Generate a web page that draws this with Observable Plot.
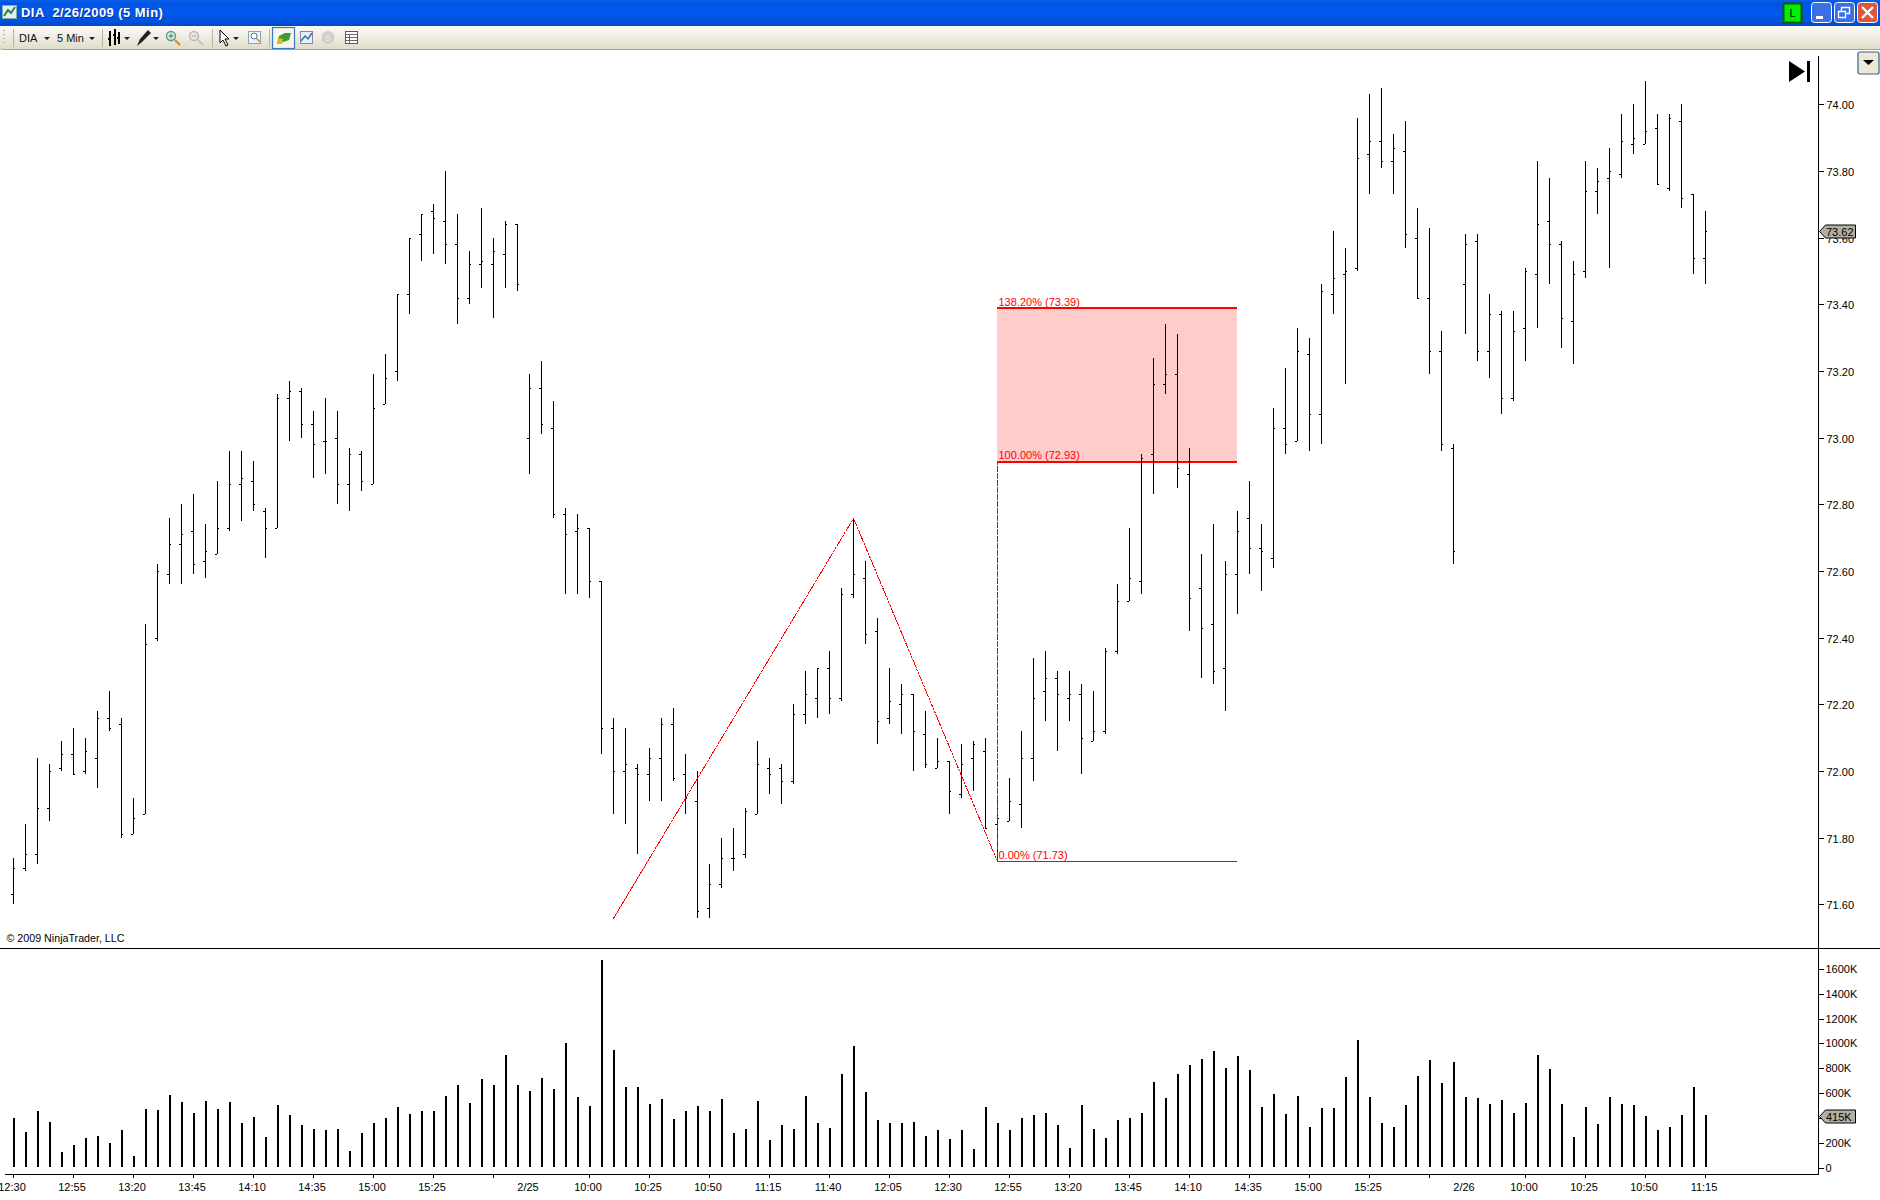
<!DOCTYPE html>
<html>
<head>
<meta charset="utf-8">
<title>DIA 2/26/2009 (5 Min)</title>
<script src="https://cdn.jsdelivr.net/npm/d3@7"></script>
<script src="https://cdn.jsdelivr.net/npm/@observablehq/plot@0.6"></script>
<style>
html,body{margin:0;padding:0;background:#fff;overflow:hidden}
#page{position:relative;width:1880px;height:1200px;overflow:hidden;background:#fff;font-family:"Liberation Sans",Arial,sans-serif}
#page svg{display:block}
.abs{position:absolute}
#titlebar{left:0;top:0;width:1880px;height:26px;background:linear-gradient(#0a5fe8 0,#0054e3 12%,#0058ee 45%,#0053de 80%,#0048c4 100%)}
#titletext{left:21px;top:5px;color:#fff;font:bold 13px "Liberation Sans",sans-serif;white-space:pre;text-shadow:1px 1px 0 #0a2f9a;letter-spacing:.45px}
#toolbar{left:0;top:26px;width:1880px;height:24px;background:linear-gradient(#fbfaf5 0,#f1efe6 40%,#dfdcca 100%);border-bottom:1px solid #a5a67c;box-sizing:border-box;border-bottom-left-radius:3px}
.tb{position:absolute;top:32px;font:11px "Liberation Sans",sans-serif;color:#111}
#sep{left:0;top:948px;width:1880px;height:1px;background:#000}
</style>
</head>
<body>
<div id="page">
  <div id="price" class="abs" style="left:0;top:50px"></div>
  <div id="volume" class="abs" style="left:0;top:948px"></div>
  <div id="sep" class="abs"></div>
  <div id="titlebar" class="abs"></div>
  <svg class="abs" style="left:2px;top:4px" width="16" height="16"><rect x=".5" y="1.5" width="14" height="13" fill="#e8eef8" stroke="#8aa"/><path d="M2 12L6 6L9 9L13 3" stroke="#2a8a2a" stroke-width="2" fill="none"/></svg>
  <div id="titletext" class="abs">DIA  2/26/2009 (5 Min)</div>
  <svg class="abs" style="left:1782px;top:2px" width="98" height="24">
    <rect x="1.5" y="1.5" width="18" height="19" fill="#00f000" stroke="#0b5a0b" stroke-width="2"/>
    <text x="10.5" y="15" font-size="11" text-anchor="middle" font-family="Liberation Sans" fill="#000">L</text>
    <rect x="29.5" y=".5" width="20" height="20" rx="3" fill="#3a6fe6" stroke="#fff"/>
    <rect x="34" y="14" width="7" height="3" fill="#fff"/>
    <rect x="52.5" y=".5" width="20" height="20" rx="3" fill="#3a6fe6" stroke="#fff"/>
    <path d="M59.5 9.5v-4h8v6h-3M56.5 9.5h7v6h-7z" stroke="#fff" fill="none" stroke-width="1.3"/>
    <rect x="75.5" y=".5" width="20" height="20" rx="3" fill="#e0563a" stroke="#fff"/>
    <path d="M80 5L91 16M91 5L80 16" stroke="#fff" stroke-width="2.4"/>
  </svg>
  <div id="toolbar" class="abs"></div>
  <svg class="abs" style="left:0;top:26px" width="370" height="24">
    <path d="M4 4v1M4 8v1M4 12v1M4 16v1" stroke="#b5b39a" stroke-width="2"/>
    <path d="M13.5 3v18M102.5 3v18M212.5 3v18M269.5 3v18" stroke="#b8b6a0"/>
    <path d="M44 11h6l-3 3zM89 11h6l-3 3zM124 11h6l-3 3zM153 11h6l-3 3zM233 11h6l-3 3z" fill="#222"/>
    <path d="M110 5v15M115 3v16M119 6v12M108 13h2M113 9h2M117 12h2" stroke="#000" stroke-width="2"/>
    <path d="M137 20l3-7 8-9 3 3-9 9z" fill="#222"/>
    <circle cx="171" cy="10" r="4.500" fill="#dff0d0" stroke="#6b8ab0" stroke-width="1.4"/><path d="M175 14l5 5" stroke="#d98a35" stroke-width="2.2"/><path d="M171 7.500v5M168.500 10h5" stroke="#1a9a1a"/>
    <circle cx="194" cy="10" r="4.500" fill="#e8e8e0" stroke="#b8b8b8" stroke-width="1.4"/><path d="M198 14l5 5" stroke="#c4c4c4" stroke-width="2.2"/><path d="M191.500 10h5" stroke="#aaa"/>
    <path d="M220 4v13l3-3 3 6 2-1-3-6h4z" fill="#fff" stroke="#000"/>
    <rect x="248.500" y="5.500" width="12" height="12" fill="#eef3fb" stroke="#8aa"/><circle cx="254" cy="10" r="3" fill="#fff" stroke="#57a"/><path d="M256 12l4 4" stroke="#d98a35" stroke-width="1.6"/>
    <rect x="272.500" y="1.500" width="22" height="21" fill="#f6f5ee" stroke="#3b78c8" stroke-width="1.2"/><path d="M277 18l2-8 6-3 6 0-2 7-6 2z" fill="#3c9a2e"/><path d="M277 18l2-6 4 1-1 5z" fill="#e5b71e"/>
    <rect x="300.500" y="5.500" width="12" height="12" fill="#e8eef8" stroke="#889"/><path d="M301 15l4-5 3 3 4-6" stroke="#2a70b0" stroke-width="1.4" fill="none"/>
    <circle cx="328" cy="11.500" r="6.500" fill="#cfcfcb"/><text x="328" y="15" font-size="9" text-anchor="middle" fill="#eee" font-family="Liberation Sans">S</text>
    <rect x="345.500" y="5.500" width="12" height="12" fill="#fff" stroke="#557"/><path d="M345 8.500h13M349.500 9v8M346 11.500h11M346 14.500h11" stroke="#667"/>
  </svg>
  <div class="tb" style="left:19px">DIA</div>
  <div class="tb" style="left:57px">5 Min</div>
  <svg class="abs" style="left:1785px;top:56px" width="95" height="30">
    <path d="M4 5v21l16-10.500z" fill="#000"/><rect x="22" y="5" width="3" height="21" fill="#000"/>
  </svg>
  <svg class="abs" style="left:1857px;top:51px" width="23" height="24">
    <rect x="1" y="1" width="21" height="22" rx="2" fill="#ece9d8" stroke="#35608f" stroke-width="1.2"/><path d="M6 9h11l-5.500 5z" fill="#000"/>
  </svg>
</div>
<script>
// ---- chart values ----
const opens = [71.63,71.71,71.75,71.89,72.01,72.05,72.00,72.04,72.16,72.14,
71.81,71.87,72.40,72.59,72.68,72.72,72.63,72.65,72.73,72.86,
72.87,72.78,72.73,73.12,73.14,73.04,72.99,73.00,72.86,72.95,
72.86,73.10,73.20,73.43,73.61,73.68,73.65,73.58,73.42,73.52,
73.52,73.55,73.64,73.00,73.15,73.03,72.77,72.72,72.73,72.57,
72.13,72.00,72.01,71.99,72.04,72.14,71.99,71.91,71.59,71.66,
71.74,71.75,71.87,72.01,72.01,71.97,72.17,72.22,72.31,72.22,
72.53,72.58,72.42,72.16,72.20,72.23,72.11,72.01,72.03,71.93,
72.04,72.06,71.84,71.85,71.90,72.04,72.24,72.28,72.22,72.23,
72.09,72.12,72.36,72.51,72.57,72.95,73.16,73.19,72.89,72.55,
72.44,72.31,72.59,72.76,72.67,72.64,73.03,72.99,73.25,73.07,
73.43,73.49,73.51,73.85,73.89,73.83,73.86,73.60,73.42,73.26,
72.97,73.46,73.59,73.26,73.37,73.12,73.33,73.49,73.65,73.58,
73.35,73.50,73.74,73.78,73.79,73.88,73.88,73.93,73.75,73.95,
73.73,73.54];
const highs = [71.74,71.84,72.04,72.02,72.09,72.13,72.10,72.18,72.24,72.16,
71.92,72.44,72.62,72.76,72.80,72.83,72.74,72.87,72.96,72.96,
72.93,72.79,73.13,73.17,73.15,73.08,73.12,73.08,72.97,72.96,
73.19,73.25,73.43,73.60,73.67,73.70,73.80,73.67,73.56,73.69,
73.60,73.65,73.64,73.19,73.23,73.11,72.79,72.77,72.73,72.57,
72.16,72.13,72.02,72.07,72.16,72.19,72.05,72.00,71.72,71.80,
71.83,71.89,72.09,72.04,72.02,72.20,72.30,72.31,72.36,72.55,
72.76,72.63,72.46,72.31,72.26,72.23,72.18,72.10,72.03,72.08,
72.09,72.10,71.91,71.98,72.12,72.34,72.36,72.30,72.30,72.26,
72.24,72.37,72.56,72.73,72.95,73.24,73.34,73.31,72.97,72.65,
72.74,72.63,72.78,72.87,72.74,73.09,73.21,73.33,73.30,73.46,
73.62,73.57,73.96,74.03,74.05,73.91,73.95,73.69,73.63,73.32,
72.98,73.61,73.61,73.43,73.38,73.38,73.51,73.83,73.78,73.59,
73.53,73.83,73.81,73.87,73.97,74.00,74.07,73.97,73.97,74.00,
73.73,73.68];
const lows = [71.60,71.70,71.72,71.85,72.00,71.99,71.99,71.95,72.12,71.80,
71.81,71.87,72.39,72.56,72.56,72.59,72.58,72.65,72.72,72.75,
72.78,72.64,72.73,72.99,73.00,72.88,72.89,72.80,72.78,72.84,
72.86,73.10,73.17,73.37,73.53,73.55,73.52,73.34,73.40,73.45,
73.36,73.45,73.44,72.89,73.01,72.76,72.53,72.53,72.52,72.05,
71.87,71.84,71.75,71.91,71.91,71.97,71.87,71.56,71.56,71.65,
71.70,71.74,71.87,71.93,71.90,71.96,72.14,72.16,72.17,72.21,
72.52,72.38,72.08,72.14,72.11,72.00,72.01,72.01,71.87,71.92,
71.94,71.83,71.74,71.85,71.83,71.97,72.15,72.06,72.15,71.99,
72.09,72.11,72.35,72.51,72.53,72.83,73.13,72.85,72.42,72.28,
72.26,72.18,72.47,72.59,72.54,72.61,72.95,72.99,72.96,72.98,
73.37,73.16,73.50,73.73,73.81,73.73,73.57,73.42,73.19,72.96,
72.62,73.31,73.23,73.18,73.07,73.11,73.23,73.33,73.46,73.27,
73.22,73.48,73.67,73.51,73.78,73.85,73.88,73.76,73.74,73.69,
73.49,73.46];
const closes = [71.71,71.75,71.89,72.00,72.05,71.99,72.06,72.16,72.13,71.81,
71.86,72.38,72.60,72.68,72.71,72.62,72.66,72.73,72.86,72.88,
72.80,72.73,73.12,73.14,73.04,72.98,72.99,72.86,72.95,72.87,
73.09,73.18,73.43,73.60,73.67,73.66,73.58,73.42,73.52,73.53,
73.56,73.64,73.46,73.15,73.04,72.77,72.71,72.73,72.57,72.13,
72.00,72.02,71.99,72.04,72.14,71.98,71.92,71.58,71.66,71.74,
71.74,71.88,72.02,71.99,71.97,72.17,72.23,72.31,72.22,72.53,
72.59,72.41,72.15,72.21,72.23,72.12,72.02,72.03,71.94,72.02,
72.08,71.83,71.86,71.91,72.04,72.22,72.28,72.23,72.23,72.10,
72.12,72.36,72.51,72.58,72.94,73.16,73.19,72.91,72.52,72.43,
72.30,72.59,72.72,72.67,72.66,73.03,72.98,73.26,73.07,73.44,
73.48,73.50,73.84,73.89,73.83,73.87,73.61,73.42,73.26,72.98,
72.66,73.58,73.26,73.37,73.12,73.32,73.50,73.64,73.58,73.36,
73.49,73.74,73.77,73.80,73.89,73.90,73.92,73.76,73.96,73.72,
73.54,73.62];
const volumes = [393,281,449,361,120,177,233,249,193,297,
88,465,457,578,522,433,530,465,522,353,
401,241,498,417,337,305,297,305,128,273,
353,393,482,425,449,449,570,658,514,706,
658,899,658,610,714,626,995,562,490,1661,
939,642,642,506,546,385,449,490,449,546,
273,305,530,217,337,305,570,353,313,746,
971,602,377,353,353,361,249,297,225,297,
144,482,353,297,393,417,433,337,152,498,
305,233,377,393,433,682,554,746,819,867,
931,794,891,778,482,586,425,570,321,473,
473,722,1019,562,353,321,498,730,859,674,
843,562,554,506,538,433,514,899,786,506,
241,482,345,562,506,498,409,297,321,417,
642,415];
const priceTicks = [71.6,71.8,72,72.2,72.4,72.6,72.8,73,73.2,73.4,73.6,73.8,74];
const volumeTicks = [0,200,400,600,800,1000,1200,1400,1600];
const timeTickBars = [0,5,10,15,20,25,30,35,40,48,53,58,63,68,73,78,83,88,93,98,103,108,113,118,126,131,136,141];
const timeTickLabels = ["12:30","12:55","13:20","13:45","14:10","14:35","15:00","15:25","","10:00","10:25","10:50","11:15","11:40","12:05","12:30","12:55","13:20","13:45","14:10","14:35","15:00","15:25","","10:00","10:25","10:50","11:15"];
const dateBars = [43,121];
const dateLabels = ["2/25","2/26"];
const swingBars = [50,70,82,82];
const swingPrices = [71.56,72.76,71.73,72.93];
const fibStart = 82, fibEnd = 102;
const fibLevels = [73.39,72.93,71.73];
const fibNames = ["138.20% (73.39)","100.00% (72.93)","0.00% (71.73)"];
const copyrightText = "© 2009 NinjaTrader, LLC";
const lastPriceLabel = "73.62", lastVolumeLabel = "415K";

// ---- tables ----
const bars = opens.map((o,i)=>({i,o,h:highs[i],l:lows[i],c:closes[i],v:volumes[i]}));
const swing = swingBars.map((b,k)=>({b,p:swingPrices[k]}));
const fib = fibLevels.map((p,k)=>({p,name:fibNames[k],w:k<2?2:1}));

// ---- shared ----
const FONT = '"Liberation Sans",Arial,sans-serif';
const xScale = {type:"linear",domain:[0,141],range:[13,13+141*12],axis:null};
function tag(value, label){
  return (index, scales, values, dim, ctx) => {
    const y = Math.round(scales.y(value));
    const x = dim.width - dim.marginRight;
    const g = d3.select(ctx.document.createElementNS("http://www.w3.org/2000/svg","g"));
    g.append("path").attr("d",`M${x+1.5} ${y+.5}L${x+7.5} ${y-6}H${x+37.5}V${y+7}H${x+7.5}Z`)
      .attr("fill","#b2afa2").attr("stroke","#000").attr("stroke-width",1);
    g.append("text").attr("x",x+8).attr("y",y+4.5).text(label)
      .attr("font-size",11).attr("fill","#000").attr("stroke","none")
      .attr("font-family",FONT).attr("text-anchor","start");
    return g.node();
  };
}

// ---- price panel ----
const pricePlot = Plot.plot({
  width:1880,height:898,marginTop:6,marginBottom:0,marginLeft:0,marginRight:62,
  style:{fontFamily:FONT,fontSize:"11px",background:"transparent",color:"#000",overflow:"visible"},
  x:xScale,
  y:{domain:[71.6,74],range:[854.4,54.4]},
  marks:[
    Plot.rectY([0],{x1:fibStart,x2:fibEnd,y1:fibLevels[1],y2:fibLevels[0],fill:"#ff0000",fillOpacity:.2,shapeRendering:"crispEdges"}),
    Plot.ruleY(fib,{y:"p",x1:fibStart,x2:fibEnd,stroke:"#ff0000",strokeWidth:"w",shapeRendering:"crispEdges"}),
    Plot.ruleX(bars,{x:"i",y1:"l",y2:"h",stroke:"#000",strokeWidth:1,shapeRendering:"crispEdges"}),
    Plot.ruleY(bars,{y:"o",x1:d=>d.i-.17,x2:"i",stroke:"#000",strokeWidth:1,shapeRendering:"crispEdges"}),
    Plot.ruleY(bars,{y:"c",x1:"i",x2:d=>d.i+.17,stroke:"#000",strokeWidth:1,shapeRendering:"crispEdges"}),
    Plot.line(swing,{x:"b",y:"p",stroke:"#ff0000",strokeWidth:1,strokeDasharray:"2,1.5",shapeRendering:"crispEdges"}),
    Plot.text(fib,{x:fibStart,y:"p",text:"name",fill:"#ff0000",textAnchor:"start",dx:1,dy:-6,fontSize:11}),
    Plot.text([copyrightText],{frameAnchor:"bottom-left",text:d=>d,dx:6,dy:-7,fontSize:10.7,fill:"#000"}),
    Plot.frame({anchor:"right",stroke:"#000"}),
    Plot.axisY({anchor:"right",ticks:priceTicks,tickFormat:()=>"",tickSize:5,label:null,stroke:"#000",shapeRendering:"crispEdges"}),
    Plot.axisY({anchor:"right",ticks:priceTicks,tickFormat:d=>d.toFixed(2),tickSize:0,tickPadding:8,dy:1,label:null,fill:"#000"}),
    tag(closes[closes.length-1],lastPriceLabel)
  ]
});
document.getElementById("price").append(pricePlot);

// ---- volume panel ----
const volumePlot = Plot.plot({
  width:1880,height:252,marginTop:0,marginBottom:26,marginLeft:5,marginRight:62,
  style:{fontFamily:FONT,fontSize:"11px",background:"transparent",color:"#000",overflow:"visible"},
  x:xScale,
  y:{domain:[0,1600],range:[220,20.7],axis:null},
  marks:[
    Plot.ruleX(bars,{x:"i",y1:0,y2:"v",dy:-1,stroke:"#000",strokeWidth:2,shapeRendering:"crispEdges"}),
    Plot.frame({anchor:"right",stroke:"#000"}),
    Plot.frame({anchor:"bottom",stroke:"#000"}),
    Plot.axisY({anchor:"right",ticks:volumeTicks,tickFormat:d=>d===0?"0":d+"K",tickSize:5,tickPadding:2,label:null,shapeRendering:"crispEdges"}),
    Plot.axisX({anchor:"bottom",ticks:timeTickBars,tickFormat:()=>"",tickSize:4,label:null,shapeRendering:"crispEdges"}),
    Plot.axisX({anchor:"bottom",ticks:timeTickBars,tickFormat:d=>timeTickLabels[timeTickBars.indexOf(d)],tickSize:0,tickPadding:9,dx:-1.5,label:null}),
    Plot.text(dateLabels,{x:(d,k)=>dateBars[k],text:d=>d,frameAnchor:"bottom",dx:-1.5,dy:16,fontSize:11}),
    tag(volumes[volumes.length-1],lastVolumeLabel)
  ]
});
document.getElementById("volume").append(volumePlot);
</script>
</body>
</html>
